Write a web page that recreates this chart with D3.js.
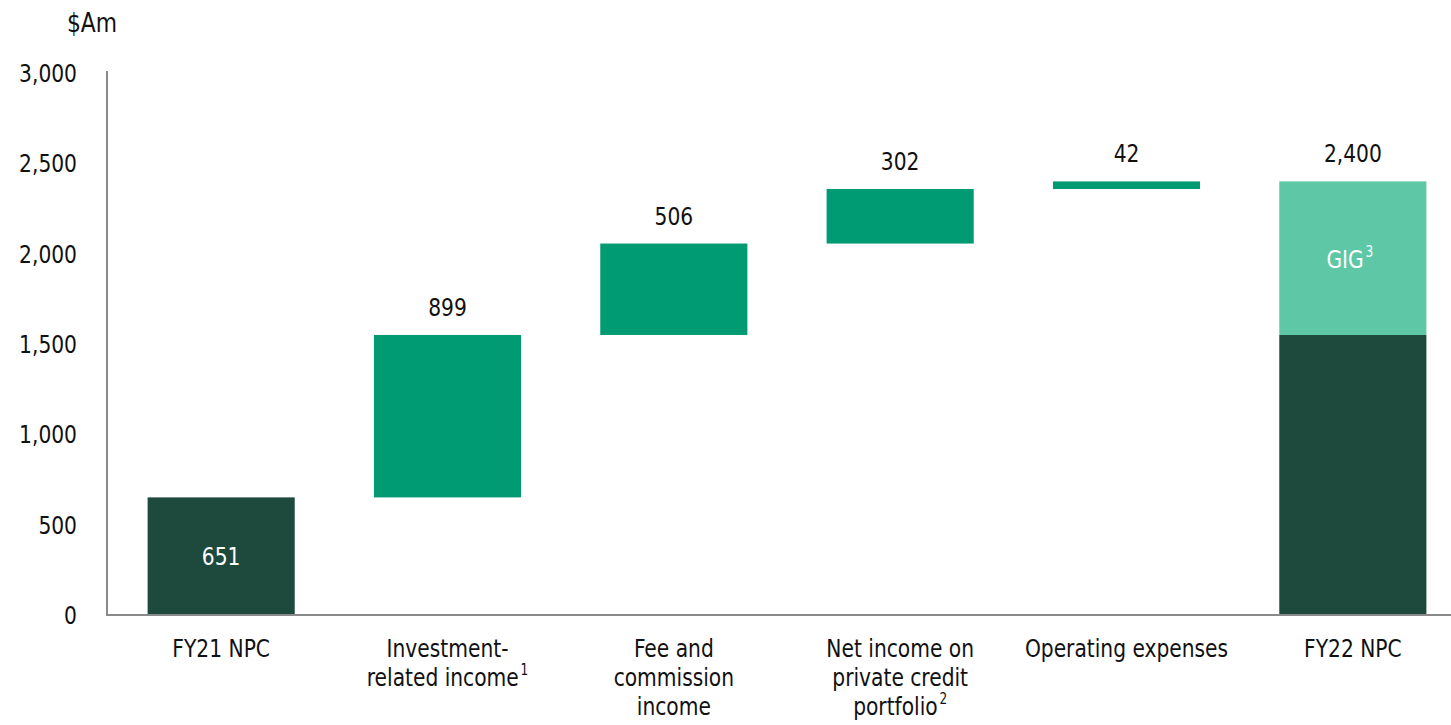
<!DOCTYPE html>
<html>
<head>
<meta charset="utf-8">
<script src="https://cdn.jsdelivr.net/npm/d3@7"></script>
<style>
  html, body { margin: 0; padding: 0; background: #fff; }
  svg { display: block; font-family: "DejaVu Sans Condensed", "DejaVu Sans", sans-serif; font-stretch: condensed; }
</style>
</head>
<body>
<svg id="chart" width="1451" height="725"></svg>
<script>
// ---- data ----
const categories = ["FY21 NPC", "Investment-related income", "Fee and commission income",
  "Net income on private credit portfolio", "Operating expenses", "FY22 NPC"];
const categoryLines = [
  ["FY21 NPC"],
  ["Investment-", "related income"],
  ["Fee and", "commission", "income"],
  ["Net income on", "private credit", "portfolio"],
  ["Operating expenses"],
  ["FY22 NPC"]
];
const footnotes = ["", "1", "", "2", "", ""];
const values = [651, 899, 506, 302, 42, 2400];
const kinds = ["total", "delta", "delta", "delta", "delta", "total"];
const fy22Base = 1550;
const fy22Gig = 850;
const gigLabel = "GIG";
const gigFootnote = "3";
const yTicks = [0, 500, 1000, 1500, 2000, 2500, 3000];
const yUnit = "$Am";

// ---- layout ----
const svg = d3.select("#chart");
const colors = { dark: "#1e4a3d", mid: "#009a73", light: "#5ec7a5", axis: "#8a8a8a" };
const x = d3.scaleBand().domain(categories).range([108, 1466]).paddingInner(0.35).paddingOuter(0.175);
const y = d3.scaleLinear().domain([0, 3000]).range([615, 73]);
const fmt = d3.format(",");
const SX = 0.9; // horizontal condensing of text

function addText(px, py, anchor, size, fill) {
  return svg.append("g").attr("transform", `translate(${px},${py}) scale(${SX},1)`)
    .append("text").attr("x", 0).attr("y", 0).attr("text-anchor", anchor)
    .attr("font-size", size).attr("fill", fill);
}

// compute waterfall segments
let running = 0;
const bars = categories.map((c, i) => {
  let y0, y1;
  if (kinds[i] === "total") { y0 = 0; y1 = values[i]; running = values[i]; }
  else { y0 = running; y1 = running + values[i]; running = y1; }
  return { c, i, y0, y1, v: values[i], kind: kinds[i] };
});

// y axis (tick labels drawn from the scale's ticks)
yTicks.forEach(t => {
  addText(77, y(t) + 9, "end", 25, "#111").text(fmt(t));
});
svg.append("line").attr("x1", 107).attr("x2", 107).attr("y1", 71).attr("y2", 615)
  .attr("stroke", colors.axis).attr("stroke-width", 2);

addText(92, 32, "middle", 27, "#111").text(yUnit);

// bars
bars.forEach(b => {
  if (b.kind === "total" && b.i === categories.length - 1) {
    svg.append("rect").attr("x", x(b.c)).attr("width", x.bandwidth())
      .attr("y", y(fy22Base)).attr("height", y(0) - y(fy22Base)).attr("fill", colors.dark);
    svg.append("rect").attr("x", x(b.c)).attr("width", x.bandwidth())
      .attr("y", y(fy22Base + fy22Gig)).attr("height", y(fy22Base) - y(fy22Base + fy22Gig)).attr("fill", colors.light);
    const t = addText(x(b.c) + x.bandwidth() / 2 - 3, (y(fy22Base) + y(fy22Base + fy22Gig)) / 2 + 10, "middle", 25, "#fff");
    t.append("tspan").text(gigLabel);
    t.append("tspan").attr("font-size", 15).attr("dx", 2).attr("dy", -11).text(gigFootnote);
  } else {
    svg.append("rect").attr("x", x(b.c)).attr("width", x.bandwidth())
      .attr("y", y(Math.max(b.y0, b.y1))).attr("height", Math.abs(y(b.y0) - y(b.y1)))
      .attr("fill", b.kind === "total" ? colors.dark : colors.mid);
  }
});

// value labels
bars.forEach(b => {
  const cx = x(b.c) + x.bandwidth() / 2;
  if (b.kind === "total" && b.i === 0) {
    addText(cx, (y(b.y0) + y(b.y1)) / 2 + 9, "middle", 25, "#fff").text(fmt(b.v));
  } else {
    addText(cx, y(Math.max(b.y0, b.y1)) - 19, "middle", 25, "#111").text(fmt(b.v));
  }
});

// x axis line
svg.append("line").attr("x1", 106).attr("x2", 1451).attr("y1", 615).attr("y2", 615)
  .attr("stroke", colors.axis).attr("stroke-width", 2);

// category labels
categories.forEach((c, i) => {
  const cx = x(c) + x.bandwidth() / 2;
  const lines = categoryLines[i];
  lines.forEach((ln, j) => {
    const t = addText(cx, 657 + j * 29, "middle", 25, "#111");
    t.append("tspan").text(ln);
    if (j === lines.length - 1 && footnotes[i]) {
      t.append("tspan").attr("font-size", 15).attr("dx", 2).attr("dy", -11).text(footnotes[i]);
    }
  });
});
</script>
</body>
</html>
